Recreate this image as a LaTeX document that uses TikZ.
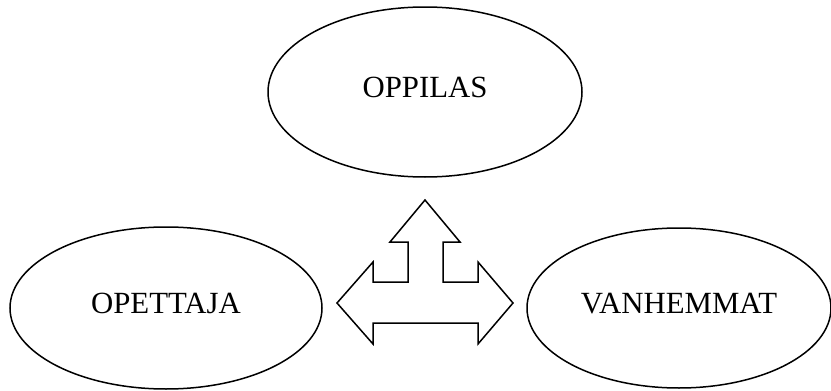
\documentclass[tikz,border=0pt]{standalone}
\usepackage{fontspec}
\setmainfont{Liberation Serif}
\usetikzlibrary{shapes.geometric}
\begin{document}
\begin{tikzpicture}[x=0.5pt, y=-0.5pt, line width=0.75pt,
    party/.style={draw, ellipse, inner sep=0pt, text depth=5pt, font=\fontsize{15.4}{18}\selectfont}]
    \useasboundingbox (0, 0) rectangle (831, 391);
    % Ellipses
    \node[party, minimum width=157pt, minimum height=85pt] (oppilas) at (425, 92) {OPPILAS};
    \node[party, minimum width=156pt, minimum height=81pt] (opettaja) at (166, 308) {OPETTAJA};
    \node[party, minimum width=152pt, minimum height=80pt] (vanhemmat) at (679, 308) {VANHEMMAT};
    % Three-way arrow
    \draw[line join=miter] (425, 200) -- (460, 242) -- (443, 242) -- (443, 282)
        -- (478, 282) -- (478, 262) -- (513, 303) -- (478, 344) -- (478, 323)
        -- (373, 323) -- (373, 344) -- (337, 303) -- (373, 262) -- (373, 282)
        -- (408, 282) -- (408, 242) -- (390, 242) -- cycle;
\end{tikzpicture}
\end{document}
